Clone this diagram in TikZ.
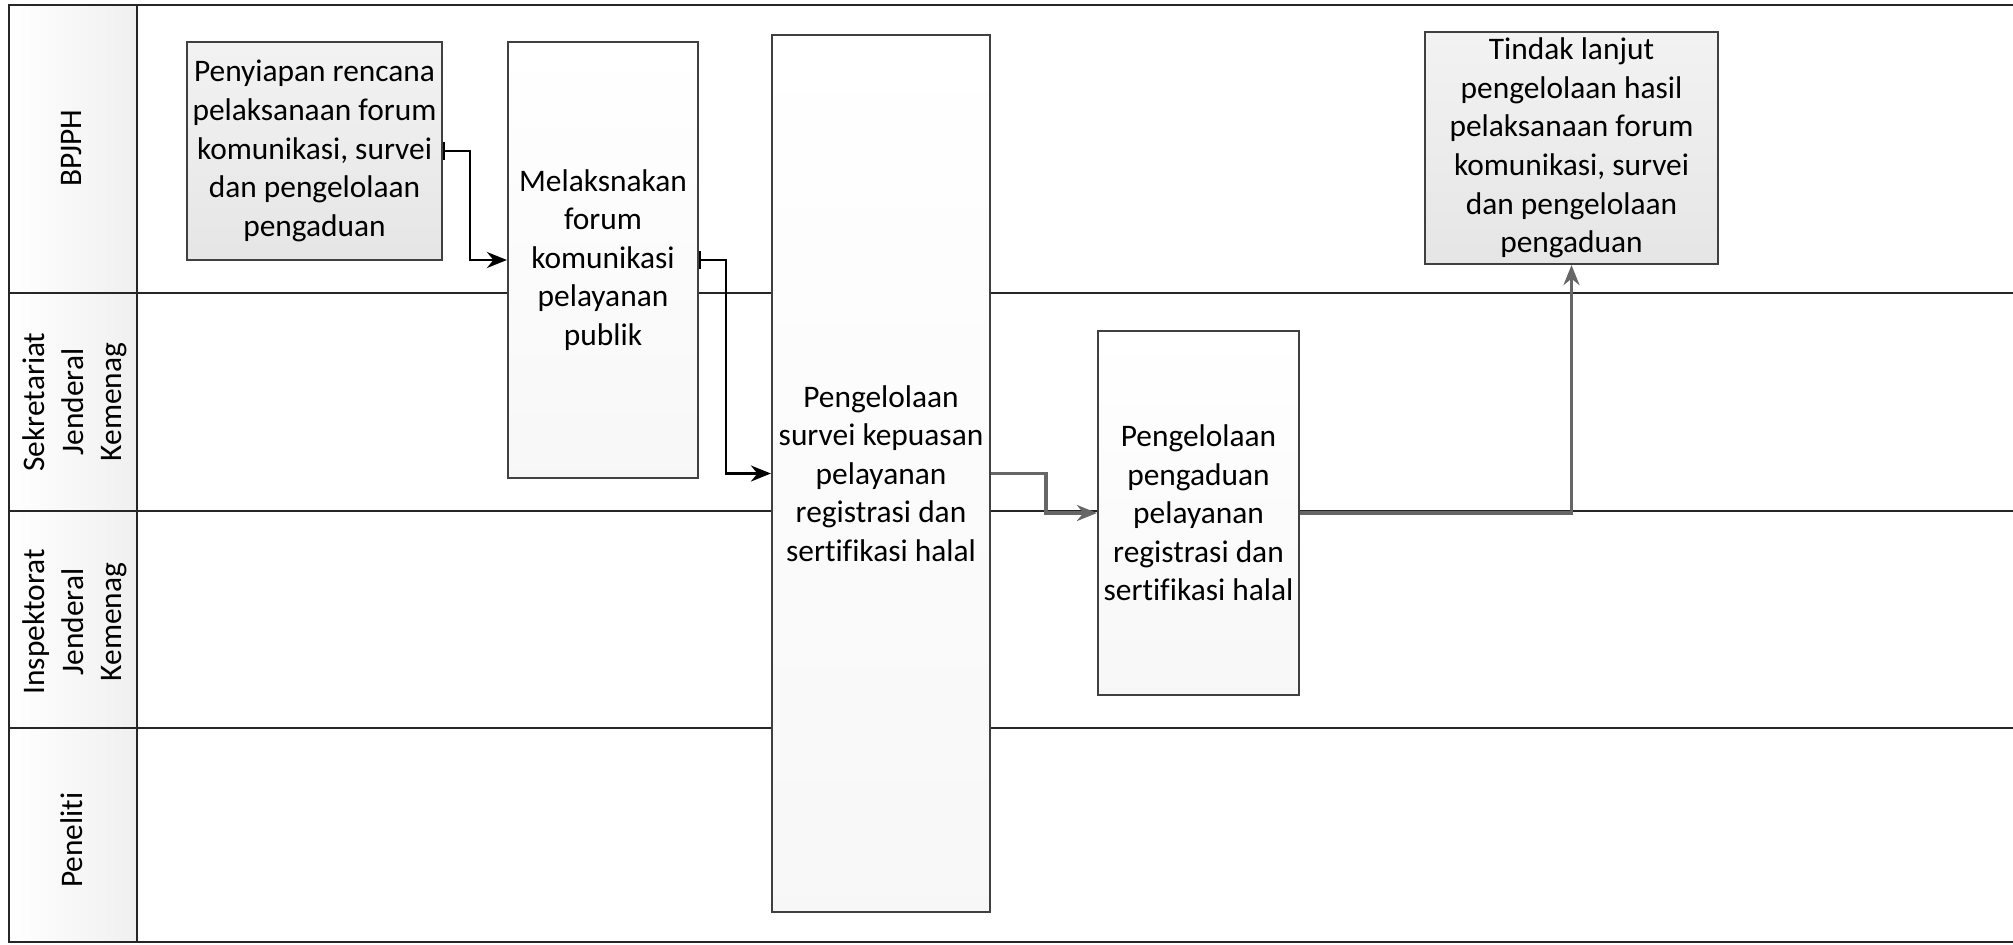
\documentclass[tikz,border=0pt]{standalone}
\usepackage{fontspec}
\setmainfont[Ligatures=NoCommon]{Carlito}
\usepackage{tikz}
\usetikzlibrary{arrows.meta,calc,positioning}

\newcommand{\boxfont}{\fontsize{15.7}{19.3}\selectfont}

\tikzset{
  lane/.style={draw=black!85, line width=1.1pt},
  stepbox/.style={draw=black!75, line width=1.1pt, inner sep=2pt, align=center, font=\boxfont},
  greybox/.style={stepbox, top color=black!5, bottom color=black!10},
  lightbox/.style={stepbox, top color=white, bottom color=black!3},
  lanehead/.style={rotate=90, align=center, font=\boxfont},
  flow/.style={line width=1.2pt, {Bar[width=9pt,line width=1pt]}-{Stealth[length=10pt,width=8pt]}},
  greyflow/.style={line width=1.7pt, draw=black!60, -{Stealth[length=10pt,width=8pt]}}
}

\begin{document}
\begin{tikzpicture}[x=0.5pt,y=-0.5pt]
        \useasboundingbox (0,0) rectangle (2013,944);
        \fill[white] (0,0) rectangle (2013,944);
        % header column and lanes
        \shade[left color=white, right color=black!6] (9,5) rectangle (137,942);
        \draw[lane] (2013,5) -- (9,5) -- (9,942) -- (2013,942);
        \draw[lane] (137,5) -- (137,942);
        \foreach \y in {293,511,728}
          \draw[lane] (9,\y) -- (2013,\y);
        % lane names
        \node[lanehead] (hbpjph) at (72,148) {BPJPH};
        \node[lanehead] (hsekjen) at (75,402) {Sekretariat\\Jenderal\\Kemenag};
        \node[lanehead] (hirjen) at (75,622) {Inspektorat\\Jenderal\\Kemenag};
        \node[lanehead] (hpeneliti) at (72,840) {Peneliti};
        % process steps
        \node[greybox, minimum width=127.5pt, minimum height=109pt] (plan) at (314.5,151)
          {Penyiapan rencana\\pelaksanaan forum\\komunikasi, survei\\dan pengelolaan\\pengaduan};
        \node[lightbox, minimum width=95pt, minimum height=218pt] (forum) at (603,260)
          {Melaksnakan\\forum\\komunikasi\\pelayanan\\publik};
        \node[lightbox, minimum width=109pt, minimum height=438.5pt] (survei) at (881,473.5)
          {Pengelolaan\\survei kepuasan\\pelayanan\\registrasi dan\\sertifikasi halal};
        \node[lightbox, minimum width=100.5pt, minimum height=182pt] (aduan) at (1198.5,513)
          {Pengelolaan\\pengaduan\\pelayanan\\registrasi dan\\sertifikasi halal};
        \node[greybox, minimum width=146.5pt, minimum height=116pt] (tindak) at (1571.5,148)
          {Tindak lanjut\\pengelolaan hasil\\pelaksanaan forum\\komunikasi, survei\\dan pengelolaan\\pengaduan};
        % connectors
        \draw[flow] (plan.east) -- ++(27,0) |- (forum.west);
        \draw[flow] (forum.east) -- ++(27,0) |- (survei.west);
        \draw[greyflow] (survei.east) -- ++(55,0) |- (aduan.west);
        \draw[greyflow] (aduan.east) -| (tindak.south);
      \end{tikzpicture}
\end{document}
